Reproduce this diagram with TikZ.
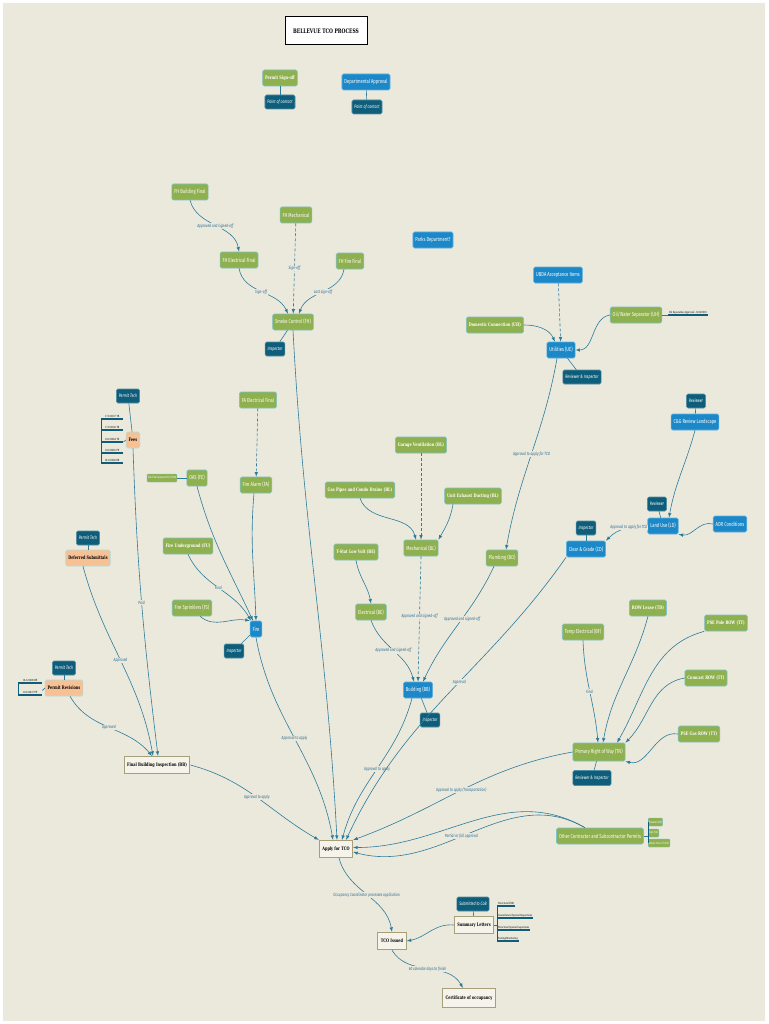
\documentclass[tikz,border=0pt]{standalone}
\usepackage{fontspec}
\usepackage{tikz}
\usetikzlibrary{shapes,arrows}
\newfontfamily\condfont[FakeStretch=0.72]{Fira Sans}
\newfontfamily\slabfont[FakeStretch=0.72]{DejaVu Serif}
\definecolor{tcbg}{HTML}{EBE8DC}
\definecolor{tcgreen}{HTML}{8FB04E}
\definecolor{tcgreenline}{HTML}{7CC3C8}
\definecolor{tcblue}{HTML}{1C88C8}
\definecolor{tcblueline}{HTML}{5DB3E0}
\definecolor{tcdark}{HTML}{0E5E7B}
\definecolor{tcpeach}{HTML}{F7C196}
\definecolor{tccream}{HTML}{F6F4EA}
\definecolor{tcolive}{HTML}{A79F7A}
\definecolor{tcline}{HTML}{2B7C9C}
\definecolor{tclabel}{HTML}{2F6F95}
\tikzset{
  box/.style={
    rectangle,
    rounded corners=1.5pt,
    inner xsep=2.5pt, inner ysep=1pt,
    minimum height=16pt,
    line width=0.6pt,
    text=white,
    text centered,
    font=\condfont\fontsize{5.7}{6.5}\selectfont
  },
  greenbox/.style={box, fill=tcgreen, draw=tcgreenline},
  bluebox/.style={box, fill=tcblue, draw=tcblueline},
  heavy/.style={font=\slabfont\bfseries\fontsize{4.8}{5.5}\selectfont},
  tagbox/.style={box, fill=tcdark, draw=tcdark!70!white, minimum height=14pt,
    font=\condfont\itshape\fontsize{4.9}{5.5}\selectfont},
  peachbox/.style={box, fill=tcpeach, draw=tcgreenline!60!white, text=black, heavy},
  stepbox/.style={
    rectangle,
    fill=tccream,
    draw=tcolive, line width=1.1pt,
    minimum height=17pt,
    inner xsep=3pt,
    text=black, heavy
  },
  titlebox/.style={rectangle, fill=white, draw=black, line width=1pt,
    minimum width=82pt, minimum height=28pt,
    font=\slabfont\bfseries\fontsize{6.2}{7}\selectfont},
  notebox/.style={rectangle, rounded corners=1pt, fill=tcgreen, draw=tcgreenline,
    line width=0.4pt, text=white, inner sep=1pt, minimum height=8pt,
    font=\condfont\fontsize{3}{3.5}\selectfont},
  listitem/.style={anchor=south west, inner sep=1pt, text=black,
    font=\slabfont\fontsize{2.8}{3}\selectfont,
    append after command={(\tikzlastnode.south west) edge[tcdark, line width=1.2pt] (\tikzlastnode.south east)}},
  flow/.style={->, >=latex, tcline, line width=0.6pt},
  tie/.style={tcline, line width=0.6pt},
  lbl/.style={font=\condfont\itshape\fontsize{4.5}{5}\selectfont, text=tclabel,
    fill=tcbg, inner sep=0.6pt},
}
\begin{document}
\begin{tikzpicture}[x=1pt,y=1pt]
  \useasboundingbox (0,0) rectangle (768,-1024);
  \fill[white] (0,0) rectangle (768,-1024);
  \fill[tcbg] (3,-3) rectangle (765,-1021);

  % legend
  \node[titlebox] (title) at (326,-31) {BELLEVUE TCO PROCESS};
  \node[greenbox, heavy] (signoff) at (280,-78) {Permit Sign-off};
  \node[tagbox] (contact1) at (280,-102) {Point of contact};
  \node[bluebox] (deptapp) at (366,-82) {Departmental Approval};
  \node[tagbox] (contact2) at (367,-107) {Point of contact};

  % fire marshal finals
  \node[greenbox] (fhbuild) at (190,-192) {FH Building Final};
  \node[greenbox] (fhmech) at (296,-215) {FH Mechanical};
  \node[greenbox] (fhelec) at (239,-260) {FH Electrical Final};
  \node[greenbox] (fhfire) at (350,-261) {FH Fire Final};
  \node[greenbox] (smoke) at (293,-322) {Smoke Control (FH)};
  \node[tagbox] (smokeinsp) at (275,-349) {Inspector};

  % utilities
  \node[bluebox] (parks) at (433,-240) {Parks Department?};
  \node[bluebox] (usda) at (558,-275) {UBDA Acceptance Items};
  \node[greenbox, heavy] (domestic) at (495,-325) {Domestic Connection (UH)};
  \node[greenbox] (oilwater) at (636,-315) {Oil/Water Separator (UH)};
  \node[listitem] (oilnote) at (668,-315) {Oil Separation Approved - 8/24/2018};
  \node[bluebox] (utilities) at (561,-350) {Utilities (UE)};
  \node[tagbox] (utilinsp) at (582,-377) {Reviewer \& Inspector};

  % fees
  \node[tagbox] (tech1) at (128,-396) {Permit Tech};
  \node[peachbox] (fees) at (133,-440) {Fees};
  \node[listitem, minimum width=22pt] (fee1) at (101,-419) {17-103167 TB};
  \node[listitem, minimum width=22pt] (fee2) at (101,-430) {17-103168 TB};
  \node[listitem, minimum width=22pt] (fee3) at (101,-442) {18-103664 TE};
  \node[listitem, minimum width=22pt] (fee4) at (101,-453) {18-103665 FE};
  \node[listitem, minimum width=22pt] (fee5) at (101,-463) {18-103666 BE};

  % fire
  \node[greenbox] (faelec) at (258,-400) {FA Electrical Final};
  \node[greenbox] (firealarm) at (256,-485) {Fire Alarm (FA)};
  \node[greenbox] (oas) at (197,-478) {OAS (FE)};
  \node[notebox] (sitefinal) at (162,-478) {Site Final Approved 8/7/2018};
  \node[greenbox, heavy] (fireunder) at (188,-546) {Fire Underground (FU)};
  \node[greenbox] (sprinkler) at (192,-608) {Fire Sprinklers (FS)};
  \node[bluebox] (fire) at (256,-629) {Fire};
  \node[tagbox] (fireinsp) at (234,-651) {Inspector};

  % building
  \node[greenbox, heavy] (garage) at (421,-445) {Garage Ventilation (BL)};
  \node[greenbox, heavy] (gaspipes) at (360,-490) {Gas Pipes and Condo Drains (BL)};
  \node[greenbox, heavy] (exhaust) at (473,-496) {Unit Exhaust Ducting (BL)};
  \node[greenbox] (mech) at (421,-548) {Mechanical (BL)};
  \node[greenbox, heavy] (tstat) at (356,-552) {T-Stat Low Volt (BE)};
  \node[greenbox] (plumbing) at (502,-558) {Plumbing (BO)};
  \node[greenbox] (electrical) at (371,-612) {Electrical (BE)};
  \node[bluebox] (building) at (418,-690) {Building (BB)};
  \node[tagbox] (buildinsp) at (430,-720) {Inspector};

  % land use, clear and grade
  \node[tagbox] (reviewer1) at (696,-401) {Reviewer};
  \node[bluebox] (landscape) at (695,-422) {C\&G Review Landscape};
  \node[tagbox] (reviewer2) at (657,-504) {Reviewer};
  \node[bluebox] (landuse) at (663,-526) {Land Use (LD)};
  \node[bluebox] (adr) at (730,-524) {ADR Conditions};
  \node[tagbox] (cginsp) at (586,-528) {Inspector};
  \node[bluebox] (cleargrade) at (586,-549) {Clear \& Grade (CD)};

  % right of way
  \node[greenbox, heavy] (rowlease) at (648,-608) {ROW Lease (TD)};
  \node[greenbox] (tempelec) at (583,-632) {Temp Electrical (BF)};
  \node[greenbox, heavy] (psepole) at (726,-623) {PSE Pole ROW (TT)};
  \node[greenbox, heavy] (comcast) at (706,-678) {Comcast ROW (TT)};
  \node[greenbox, heavy] (psegas) at (699,-734) {PSE Gas ROW (TT)};
  \node[greenbox, minimum height=18pt] (primary) at (599,-752) {Primary Right of Way (TN)};
  \node[tagbox, minimum height=15pt] (rowinsp) at (592,-778) {Reviewer \& Inspector};

  % permit tech items
  \node[tagbox] (tech2) at (88,-538) {Permit Tech};
  \node[peachbox] (deferred) at (88,-558) {Deferred Submittals};
  \node[tagbox] (tech3) at (64,-668) {Permit Tech};
  \node[peachbox] (revisions) at (64,-688) {Permit Revisions};
  \node[listitem, minimum width=24pt] (revnum1) at (18,-683) {18-123489 BE};
  \node[listitem, minimum width=24pt] (revnum2) at (18,-695) {18-103437 FE};
  \node[stepbox] (finalinsp) at (157,-765) {Final Building Inspection (BB)};

  % tco
  \node[stepbox] (apply) at (336,-849) {Apply for TCO};
  \node[greenbox] (other) at (600,-836) {Other Contractor and Subcontractor Permits};
  \node[notebox, anchor=west] (other1) at (648,-822) {Elevator (BE)};
  \node[notebox, anchor=west] (other2) at (648,-833) {Sign (SG)};
  \node[notebox, anchor=west] (other3) at (648,-843) {Wheel Chair Lift (CS)};
  \node[stepbox] (tco) at (392,-941) {TCO Issued};
  \node[tagbox] (cob) at (473,-904) {Submitted to CoB};
  \node[stepbox] (summary) at (474,-925) {Summary Letters};
  \node[listitem] (letter1) at (497,-906) {Structural EOR};
  \node[listitem] (letter2) at (497,-918) {Geotechnical Special Inspections};
  \node[listitem] (letter3) at (497,-930) {Structural Special Inspections};
  \node[listitem] (letter4) at (497,-941) {Testing/Monitoring};
  \node[stepbox, minimum height=19pt] (certificate) at (469,-998) {Certificate of occupancy};

  % brackets and tags
  \draw[tcdark, line width=0.8pt] (fee1.south west) -- (fee5.south west);
  \draw[tcdark, line width=0.8pt] (revnum1.south west) -- (revnum2.south west);
  \draw[tcdark, line width=0.8pt] (letter1.south west) -- (letter4.south west);
  \draw[tcdark, line width=0.8pt] (other1.west) -- (other3.west);
  \path[tie]
    (signoff) edge (contact1)
    (deptapp) edge (contact2)
    (smoke) edge (smokeinsp)
    (utilities) edge (utilinsp)
    (tech1) edge (fees)
    (fire) edge (fireinsp)
    (building) edge (buildinsp)
    (reviewer1) edge (landscape)
    (reviewer2) edge (landuse)
    (cginsp) edge (cleargrade)
    (primary) edge (rowinsp)
    (tech2) edge (deferred)
    (tech3) edge (revisions)
    (cob) edge (summary)
    (sitefinal) edge (oas)
    (fees.west) edge (fee3.south east)
    (revisions.west) edge (revnum2.north east)
    (summary.east) edge (letter1.south west |- summary.east)
    (other.east) edge (other1.west |- other.east)
    (oilwater.east) edge (oilnote.south west);

  % fire marshal and utilities
  \path[flow]
    (fhbuild.south) edge[out=-75,in=100] node[lbl]{Approved and signed-off} (fhelec.north)
    (fhelec.south) edge[out=-80,in=115] node[lbl]{Sign-off} ([xshift=-5pt]smoke.north)
    (fhmech) edge[densely dashed] node[lbl]{Sign-off} (smoke)
    ([xshift=-6pt]fhfire.south) edge[out=-100,in=70] node[lbl]{Last sign-off} ([xshift=6pt]smoke.north)
    (smoke.south) edge[out=-87,in=93] ([xshift=1pt]apply.north)
    (usda) edge[densely dashed] (utilities)
    (domestic.east) edge[out=0,in=115] ([xshift=-6pt]utilities.north)
    (oilwater.west) edge[out=190,in=0] (utilities.east)
    ([xshift=-4pt]utilities.south) edge[out=-100,in=80] node[lbl]{Approval to apply for TCO} ([xshift=4pt]plumbing.north);

  % fire and building
  \path[flow]
    (fees.south) edge[out=-88,in=97] node[lbl]{Paid} ([xshift=1pt]finalinsp.north)
    (faelec) edge[densely dashed] (firealarm)
    ([xshift=-2pt]firealarm.south) edge[out=-95,in=92] (fire.north)
    (oas.south) edge[out=-75,in=115] ([xshift=-3pt]fire.north)
    (fireunder.south) edge[out=-65,in=120] node[lbl]{Final} ([xshift=-5pt]fire.north)
    ([xshift=8pt]sprinkler.south) edge[out=-40,in=170] (fire.north west)
    (fire.south) edge[out=-80,in=100] node[lbl]{Approval to apply} ([xshift=-3pt]apply.north)
    (garage) edge[densely dashed] (mech)
    (gaspipes.south) edge[out=-70,in=105] ([xshift=-5pt]mech.north)
    ([xshift=-20pt]exhaust.south) edge[out=-100,in=60] (mech.north east)
    (tstat.south) edge[out=-80,in=100] (electrical.north)
    (electrical.south) edge[out=-70,in=105] node[lbl]{Approved and signed-off} ([xshift=-4pt]building.north)
    (mech.south) edge[densely dashed] node[lbl,pos=0.48]{Approved and signed-off} (building.north)
    ([xshift=-8pt]plumbing.south) edge[out=-115,in=65] node[lbl,pos=0.45]{Approved and signed-off} ([xshift=5pt]building.north)
    ([xshift=-6pt]building.south) edge[out=-105,in=75] node[lbl]{Approval to apply} ([xshift=6pt]apply.north);

  % land use and right of way
  \path[flow]
    (landscape.south) edge[out=-105,in=80] ([xshift=6pt]landuse.north)
    (adr.west) edge[out=165,in=-10] (landuse.south east)
    (landuse.west) edge[out=180,in=45] node[lbl,pos=0.4]{Approval to apply for TCO} (cleargrade.north east)
    (cleargrade.south west) edge[out=-125,in=65] node[lbl,pos=0.45]{Approval} ([xshift=10pt]apply.north)
    (tempelec.south) edge[out=-88,in=95] node[lbl]{Final} ([xshift=-1pt]primary.north)
    (rowlease.south) edge[out=-105,in=80] ([xshift=4pt]primary.north)
    (psepole.south west) edge[out=195,in=60] ([xshift=18pt]primary.north)
    (comcast.west) edge[out=190,in=45] (primary.north east)
    (psegas.west) edge[out=170,in=-15] (primary.south east)
    (primary.west) edge[out=190,in=20] node[lbl,pos=0.5]{Approval to apply (Transportation)} (apply.north east);

  % towards the certificate
  \path[flow]
    ([xshift=-5pt]deferred.south) edge[out=-75,in=100] node[lbl]{Approved} ([xshift=-4pt]finalinsp.north)
    ([xshift=6pt]revisions.south) edge[out=-60,in=130] node[lbl]{Approved} ([xshift=-5pt]finalinsp.north)
    (finalinsp.east) edge[out=-15,in=150] node[lbl]{Approval to apply} (apply.north west)
    ([xshift=-15pt]other.north) edge[out=150,in=0] ([yshift=1.5pt]apply.east)
    ([xshift=-15pt]other.north) edge[out=150,in=-15] node[lbl,pos=0.55]{Partial or full approval} ([yshift=-3pt]apply.east)
    ([xshift=3pt]apply.south) edge[out=-75,in=100] node[lbl]{Occupancy Coordinator processes application} (tco.north)
    (summary.west) edge[out=175,in=10] (tco.east)
    (tco.south) edge[out=-60,in=120] node[lbl]{60 calendar days to finish} ([xshift=-6pt]certificate.north);
\end{tikzpicture}
\end{document}
